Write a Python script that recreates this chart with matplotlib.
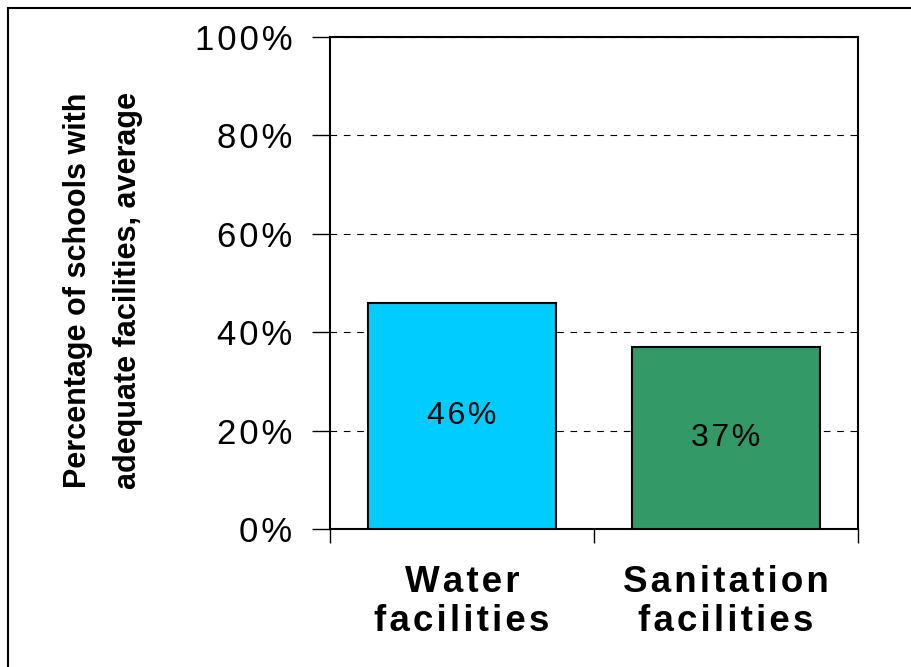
import matplotlib.pyplot as plt
from matplotlib.patches import Rectangle

categories = ['Water\nfacilities', 'Sanitation\nfacilities']
values = [46, 37]
colors = ['#00CCFF', '#339966']
yticks = [0, 20, 40, 60, 80, 100]

plt.rcParams['font.family'] = ['Liberation Sans', 'DejaVu Sans']

HAIR = '\u200a'


def spaced(s):
    # slightly wider letter spacing, like the original rendering
    return '\n'.join(HAIR.join(line) for line in s.split('\n'))


fig = plt.figure(figsize=(9.12, 6.67), dpi=100)
ax = fig.add_axes([330/912, 1 - 529/667, 528/912, 492/667])

# outer frame (cut off at right and bottom in the original)
fig.patches.append(Rectangle((8/912, -0.1), 1.2, 1 - 8/667 + 0.1, transform=fig.transFigure,
                             fill=False, edgecolor='black', linewidth=1.5))

x = range(len(categories))
ax.bar(x, values, width=0.71, color=colors, edgecolor='black', linewidth=1.5, zorder=3)
for i, v in enumerate(values):
    ax.text(i, v / 2, spaced(f'{v}%'), ha='center', va='center', fontsize=23, zorder=4)

ax.set_xlim(-0.5, 1.5)
ax.set_ylim(0, 100)
ax.set_yticks(yticks)
ax.set_yticklabels([spaced(f'{t}%') for t in yticks], fontsize=25)
ax.yaxis.grid(True, linestyle=(0, (6, 6)), color='black', linewidth=0.8, zorder=0)

ax.set_xticks([-0.5, 0.5, 1.5])
ax.set_xticklabels([])
ax.set_xticks([0, 1], minor=True)
ax.set_xticklabels([spaced(c) for c in categories], minor=True, fontsize=26.5,
                   fontweight='bold', linespacing=1.15)
ax.tick_params(axis='x', which='minor', length=0, pad=26)
ax.tick_params(axis='x', which='major', length=10, width=1, direction='out')
ax.tick_params(axis='y', length=13, width=1, direction='out', pad=14)

for s in ax.spines.values():
    s.set_linewidth(1.5)

fig.text(78/912, 0.564, 'Percentage of schools with', rotation=90, ha='center', va='center',
         fontsize=22, fontweight='bold')
fig.text(128/912, 0.564, 'adequate facilities, average', rotation=90, ha='center', va='center',
         fontsize=22, fontweight='bold')

fig.savefig('out.png', dpi=100)
